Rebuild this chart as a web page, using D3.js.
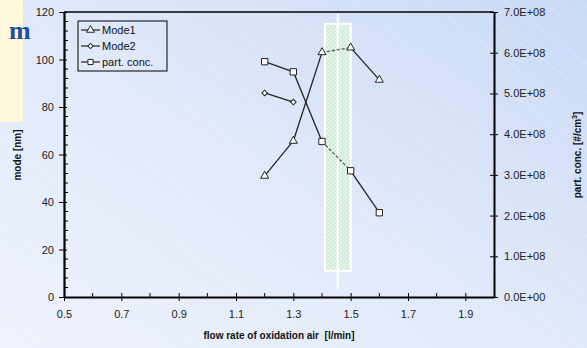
<!DOCTYPE html>
<html><head><meta charset="utf-8">
<script src="https://cdn.jsdelivr.net/npm/d3@7"></script>
<style>body{margin:0;padding:0;overflow:hidden;} svg{display:block;}</style>
</head><body>
<script>
const flowRate = [1.2, 1.3, 1.4, 1.5, 1.6];
const mode1 = [51, 65.7, 103, 105, 91.4];
const mode2 = [85.9, 82.1];
const mode2Flow = [1.2, 1.3];
const partConc = [5.78e8, 5.53e8, 3.82e8, 3.10e8, 2.07e8];
const xTicks = [0.5, 0.7, 0.9, 1.1, 1.3, 1.5, 1.7, 1.9];
const yTicks = [0, 20, 40, 60, 80, 100, 120];
const y2Ticks = [0, 1e8, 2e8, 3e8, 4e8, 5e8, 6e8, 7e8];
const highlight = {x0: 1.41, x1: 1.50, y0: 11, y1: 115, line: 1.455};

const W = 587, H = 348;
const svg = d3.select("body").append("svg").attr("width", W).attr("height", H);
const defs = svg.append("defs");
const bg = defs.append("linearGradient").attr("id","bg").attr("x1","0").attr("y1","1").attr("x2","1").attr("y2","0");
bg.append("stop").attr("offset","0").attr("stop-color","#eef2fc");
bg.append("stop").attr("offset","0.5").attr("stop-color","#e0e9fa");
bg.append("stop").attr("offset","1").attr("stop-color","#c9daf6");
svg.append("rect").attr("width",W).attr("height",H).attr("fill","url(#bg)");
// faint diagonal lines
const dl = svg.append("g").attr("stroke","#ffffff").attr("stroke-opacity",0.3).attr("stroke-width",0.8);
for (let k = -600; k < 700; k += 38) {
  dl.append("line").attr("x1",k).attr("y1",0).attr("x2",k+460).attr("y2",H);
}
// cropped slide panel
svg.append("rect").attr("x",0).attr("y",0).attr("width",23).attr("height",122).attr("fill","#fdf8dc");
svg.append("text").attr("x",9).attr("y",39).attr("font-family","Liberation Serif, serif").attr("font-weight","bold")
  .attr("font-size",26).attr("fill","#1f4e9c").text("m");

const pat = defs.append("pattern").attr("id","chk").attr("width",4).attr("height",4).attr("patternUnits","userSpaceOnUse");
pat.append("rect").attr("width",4).attr("height",4).attr("fill","#e2f4e6");
pat.append("rect").attr("width",2).attr("height",2).attr("fill","#d2eedb");
pat.append("rect").attr("x",2).attr("y",2).attr("width",2).attr("height",2).attr("fill","#d2eedb");

const pLeft = 64, pRight = 494, pTop = 12, pBottom = 297;
const x = d3.scaleLinear().domain([0.5, 2.0]).range([pLeft, pRight]);
const y = d3.scaleLinear().domain([0, 120]).range([pBottom, pTop]);
const y2 = d3.scaleLinear().domain([0, 7e8]).range([pBottom, pTop]);

// highlight box
svg.append("rect").attr("x", x(highlight.x0)).attr("y", y(highlight.y1))
  .attr("width", x(highlight.x1)-x(highlight.x0)).attr("height", y(highlight.y0)-y(highlight.y1))
  .attr("fill","url(#chk)").attr("stroke","#ffffff").attr("stroke-width",2);
svg.append("line").attr("x1", x(highlight.line)).attr("x2", x(highlight.line))
  .attr("y1", pTop+2).attr("y2", y(2.6)).attr("stroke","#ffffff").attr("stroke-width",2);

const font = "Liberation Sans, Arial, sans-serif";
// axes
const xAxis = d3.axisBottom(x).tickValues(xTicks).tickFormat(d3.format(".1f")).tickSizeInner(4).tickSizeOuter(0);
const gx = svg.append("g").attr("transform",`translate(0,${pBottom})`).call(xAxis);
gx.selectAll(".tick line").attr("y1",-4).attr("y2",4);
const xMinor = d3.range(0.6, 2.0, 0.2);
gx.selectAll(".minor").data(xMinor).enter().append("line").attr("x1",d=>x(d)).attr("x2",d=>x(d)).attr("y1",0).attr("y2",-4).attr("stroke","#000");
gx.select(".domain").attr("stroke-width",2);
gx.selectAll("text").attr("font-family",font).attr("font-size",11).attr("fill","#222").attr("dy","1.3em");

const yAxis = d3.axisLeft(y).tickValues(yTicks).tickSizeInner(5).tickSizeOuter(0);
const gy = svg.append("g").attr("transform",`translate(${pLeft},0)`).call(yAxis);
gy.selectAll(".tick line").attr("x1",-5).attr("x2",3);
const yMinor = d3.range(0, 120, 4).filter(v => v % 20 !== 0);
gy.selectAll(".minor").data(yMinor).enter().append("line").attr("x1",0).attr("x2",4).attr("y1",d=>y(d)).attr("y2",d=>y(d)).attr("stroke","#000");
gy.select(".domain").attr("stroke-width",2.2);
gy.selectAll("text").attr("font-family",font).attr("font-size",11).attr("fill","#222").attr("x",-10);

const y2Axis = d3.axisRight(y2).tickValues(y2Ticks).tickSizeInner(4).tickSizeOuter(0);
const gy2 = svg.append("g").attr("transform",`translate(${pRight},0)`).call(y2Axis);
gy2.selectAll(".tick line").attr("x1",-4).attr("x2",4);
gy2.select(".domain").attr("stroke-width",2);
gy2.selectAll("text").attr("font-family",font).attr("font-size",11).attr("fill","#222").attr("x",10);
gy2.selectAll(".tick text").text(d => d===0 ? "0.0E+00" : (d/1e8).toFixed(1)+"E+08");

svg.append("line").attr("x1",pLeft).attr("x2",pRight).attr("y1",pTop).attr("y2",pTop).attr("stroke","#000").attr("stroke-width",1.5);

// axis titles
svg.append("text").attr("x", 279).attr("y", 339).attr("text-anchor","middle").attr("font-family",font)
  .attr("font-weight","bold").attr("font-size",10).attr("fill","#111").attr("xml:space","preserve").text("flow rate of oxidation air  [l/min]");
svg.append("text").attr("transform","translate(21,155) rotate(-90)").attr("text-anchor","middle").attr("font-family",font)
  .attr("font-weight","bold").attr("font-size",10).attr("fill","#111").text("mode [nm]");
const t2 = svg.append("text").attr("transform","translate(581,155) rotate(-90)").attr("text-anchor","middle").attr("font-family",font)
  .attr("font-weight","bold").attr("font-size",10).attr("fill","#111");
t2.append("tspan").text("part. conc. [#/cm");
t2.append("tspan").attr("font-size",7).attr("dy",-4).text("3");
t2.append("tspan").attr("dy",4).text("]");

// series
function drawSeries(xs, vals, ys, dashedIdx) {
  const pts = xs.map((xv,i)=>[x(xv), ys(vals[i])]);
  for (let i = 0; i < pts.length-1; i++) {
    svg.append("line").attr("x1",pts[i][0]).attr("y1",pts[i][1]).attr("x2",pts[i+1][0]).attr("y2",pts[i+1][1])
      .attr("stroke", i===dashedIdx ? "#555" : "#222").attr("stroke-width",1.3)
      .attr("stroke-dasharray", i===dashedIdx ? "3,2" : null);
  }
  return pts;
}
const sym = {tri: d3.symbolTriangle, dia: d3.symbolSquare, sq: d3.symbolSquare};
const rot = {tri: 0, dia: 45, sq: 0};
function drawMarkers(pts, type, size) {
  svg.append("g").selectAll("path").data(pts).enter().append("path")
    .attr("transform", d=>`translate(${d[0]},${d[1]}) rotate(${rot[type]})`)
    .attr("d", d3.symbol().type(sym[type]).size(size))
    .attr("fill","#fff").attr("stroke","#222").attr("stroke-width",1);
}
const p1 = drawSeries(flowRate, mode1, y, 2);
const p2 = drawSeries(mode2Flow, mode2, y, -1);
const p3 = drawSeries(flowRate, partConc, y2, 2);
drawMarkers(p1, "tri", 28);
drawMarkers(p2, "dia", 16);
drawMarkers(p3, "sq", 40);

// legend
const lg = svg.append("g");
lg.append("rect").attr("x",78).attr("y",21).attr("width",89).attr("height",50).attr("fill","none").attr("stroke","#000").attr("stroke-width",1);
const items = [["Mode1","tri",26],["Mode2","dia",14],["part. conc.","sq",26]];
items.forEach((it,i) => {
  const yy = 30 + i*16;
  lg.append("line").attr("x1",81).attr("x2",100).attr("y1",yy).attr("y2",yy).attr("stroke","#222").attr("stroke-width",1.2);
  lg.append("path").attr("transform",`translate(90.5,${yy}) rotate(${rot[it[1]]})`).attr("d", d3.symbol().type(sym[it[1]]).size(it[2]))
    .attr("fill","#fff").attr("stroke","#222");
  lg.append("text").attr("x",102).attr("y",yy+4).attr("font-family",font).attr("font-size",11).attr("fill","#111").text(it[0]);
});
</script>
</body></html>
